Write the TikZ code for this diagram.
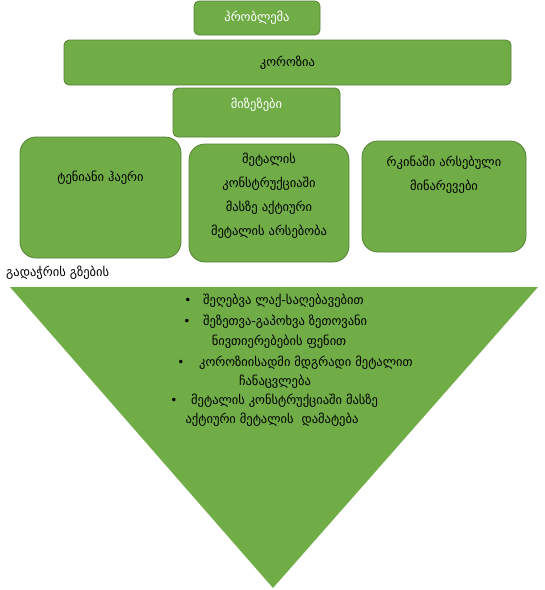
\documentclass[tikz,border=0pt]{standalone}
\usepackage{fontspec}
\setmainfont{DejaVu Sans}
\definecolor{leaf}{HTML}{70AD47}
\definecolor{leafline}{HTML}{548235}
\tikzset{
  box/.style={draw=leafline, fill=leaf, line width=0.8pt, rounded corners=5pt, inner sep=0pt},
  bigbox/.style={box, rounded corners=16pt},
  txt/.style={font=\fontsize{12.5}{24}\selectfont, align=center, inner sep=0pt},
  whitetxt/.style={txt, text=white},
  dot/.style={font=\fontsize{12}{12}\selectfont, inner sep=0pt},
}
\begin{document}
\begin{tikzpicture}[x=1pt,y=-1pt]
  \useasboundingbox (0,0) rectangle (545,590);
  % top boxes
  \node[box, minimum width=126pt, minimum height=34pt] (problem) at (257,18) {};
  \node[whitetxt] (problemtxt) at (problem) {პრობლემა};
  \node[box, minimum width=447pt, minimum height=45pt] (corrosion) at (287.5,62.5) {};
  \node[txt] (corrosiontxt) at (corrosion) {კოროზია};
  \node[box, minimum width=167pt, minimum height=49pt] (causes) at (256.5,112.5) {};
  \node[whitetxt] (causestxt) at (256.5,105) {მიზეზები};
  % causes
  \node[bigbox, minimum width=161pt, minimum height=121pt] (humid) at (100.5,197.5) {};
  \node[txt] (humidtxt) at (100.5,178) {ტენიანი ჰაერი};
  \node[bigbox, minimum width=160pt, minimum height=118pt] (active) at (269,203) {};
  \node[txt] (activetxt) at (269,196) {მეტალის\\კონსტრუქციაში\\მასზე აქტიური\\მეტალის არსებობა};
  \node[bigbox, minimum width=164pt, minimum height=111pt] (impure) at (444,196.5) {};
  \node[txt] (impuretxt) at (444,174.5) {რკინაში არსებული\\მინარევები};
  % solutions
  \node[txt, anchor=west] (solutions) at (6,273) {გადაჭრის გზების};
  \coordinate (tl) at (10,287);
  \coordinate (tr) at (538,287);
  \coordinate (apex) at (273,588);
  \fill[leaf] (tl) -- (tr) -- (apex) -- cycle;
  \node[dot] (b1) at (188,301) {•};
  \node[txt, anchor=west] (s1) at (203,301) {შეღებვა ლაქ-საღებავებით};
  \node[dot] (b2) at (187,322) {•};
  \node[txt, anchor=west] (s2) at (203,322) {შეზეთვა-გაპოხვა ზეთოვანი};
  \node[txt] (s2b) at (279,342) {ნივთიერებების ფენით};
  \node[dot] (b3) at (181,363) {•};
  \node[txt, anchor=west] (s3) at (199,363) {კოროზიისადმი მდგრადი მეტალით};
  \node[txt] (s3b) at (275,382) {ჩანაცვლება};
  \node[dot] (b4) at (174,401) {•};
  \node[txt, anchor=west] (s4) at (191,401) {მეტალის კონსტრუქციაში მასზე};
  \node[txt] (s4b) at (272,420) {აქტიური მეტალის~ დამატება};
\end{tikzpicture}
\end{document}
